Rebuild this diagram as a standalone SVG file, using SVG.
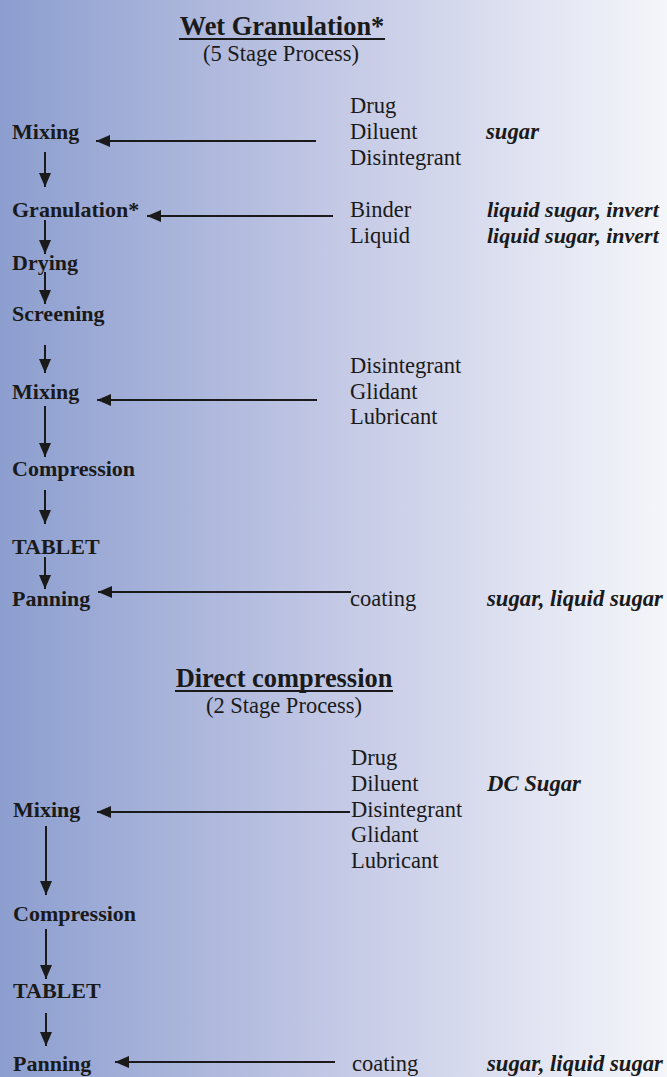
<svg xmlns="http://www.w3.org/2000/svg" width="667" height="1077" viewBox="0 0 667 1077">
<defs>
<linearGradient id="bg" x1="0" y1="0" x2="1" y2="0">
<stop offset="0" stop-color="#8c9ecf"/>
<stop offset="0.5" stop-color="#c3c8e5"/>
<stop offset="1" stop-color="#f5f6fa"/>
</linearGradient>
<marker id="ah" markerUnits="userSpaceOnUse" markerWidth="15" markerHeight="13" refX="14" refY="6.5" orient="auto" viewBox="0 0 15 13">
<path d="M0,0.5 L14,6.5 L0,12.5 z" fill="#1a1a1a"/>
</marker>
<style>
text{font-family:"Liberation Serif","Times New Roman",serif;fill:#1a1a1a}
.t{font-size:26.4px;font-weight:bold;text-anchor:middle}
.s{font-size:22.5px;text-anchor:middle}
.b{font-size:22px;font-weight:bold}
.r{font-size:22.5px}
.bi{font-size:22.7px;font-weight:bold;font-style:italic}
.bi2{font-size:22px;font-weight:bold;font-style:italic}
.c line{stroke:#1a1a1a;stroke-width:2;marker-end:url(#ah)}
.u{fill:#1a1a1a}
</style>
</defs>
<rect width="667" height="1077" fill="url(#bg)"/>

<g id="title1">
<text class="t" x="282" y="35">Wet Granulation*</text>
<rect class="u" x="179" y="38" width="206" height="2"/>
<text class="s" x="281" y="61">(5 Stage Process)</text>
</g>

<g id="mixing1"><text class="b" x="12" y="139">Mixing</text></g>
<g id="granulation"><text class="b" x="12" y="217">Granulation*</text></g>
<g id="drying"><text class="b" x="12" y="270">Drying</text></g>
<g id="screening"><text class="b" x="12" y="321">Screening</text></g>
<g id="mixing2"><text class="b" x="12" y="399">Mixing</text></g>
<g id="compression1"><text class="b" x="12" y="476">Compression</text></g>
<g id="tablet1"><text class="b" x="12" y="554">TABLET</text></g>
<g id="panning1"><text class="b" x="12" y="606">Panning</text></g>

<g id="inputs1">
<text class="r" x="350" y="113">Drug</text>
<text class="r" x="350" y="139">Diluent</text>
<text class="r" x="350" y="165">Disintegrant</text>
<text class="bi" x="486" y="139">sugar</text>
</g>
<g id="inputs2">
<text class="r" x="350" y="217">Binder</text>
<text class="r" x="350" y="243">Liquid</text>
<text class="bi2" x="487" y="217">liquid sugar, invert</text>
<text class="bi2" x="487" y="243">liquid sugar, invert</text>
</g>
<g id="inputs3">
<text class="r" x="350" y="373">Disintegrant</text>
<text class="r" x="350" y="399">Glidant</text>
<text class="r" x="350" y="424">Lubricant</text>
</g>
<g id="inputs4">
<text class="r" x="350" y="606">coating</text>
<text class="bi" x="487" y="606">sugar, liquid sugar</text>
</g>

<g id="title2">
<text class="t" x="284" y="687">Direct compression</text>
<rect class="u" x="175" y="690" width="218" height="2"/>
<text class="s" x="284" y="713">(2 Stage Process)</text>
</g>

<g id="mixing3"><text class="b" x="13" y="817">Mixing</text></g>
<g id="compression2"><text class="b" x="13" y="921">Compression</text></g>
<g id="tablet2"><text class="b" x="13" y="998">TABLET</text></g>
<g id="panning2"><text class="b" x="13" y="1071">Panning</text></g>

<g id="inputs5">
<text class="r" x="351" y="765">Drug</text>
<text class="r" x="351" y="791">Diluent</text>
<text class="r" x="351" y="817">Disintegrant</text>
<text class="r" x="351" y="842">Glidant</text>
<text class="r" x="351" y="868">Lubricant</text>
<text class="bi" x="487" y="791">DC Sugar</text>
</g>
<g id="inputs6">
<text class="r" x="352" y="1071">coating</text>
<text class="bi" x="487" y="1071">sugar, liquid sugar</text>
</g>

<g id="connectors" class="c">
<line x1="316" y1="141" x2="96" y2="141"/>
<line x1="333" y1="216" x2="147" y2="216"/>
<line x1="317" y1="400" x2="97" y2="400"/>
<line x1="351" y1="592" x2="98" y2="592"/>
<line x1="45" y1="152" x2="45" y2="187"/>
<line x1="45" y1="220" x2="45" y2="254"/>
<line x1="45" y1="272" x2="45" y2="304"/>
<line x1="45" y1="345" x2="45" y2="373"/>
<line x1="45" y1="406" x2="45" y2="457"/>
<line x1="45" y1="490" x2="45" y2="524"/>
<line x1="45" y1="557" x2="45" y2="589"/>
<line x1="350" y1="812" x2="97" y2="812"/>
<line x1="335" y1="1062" x2="115" y2="1062"/>
<line x1="46" y1="826" x2="46" y2="895"/>
<line x1="46" y1="929" x2="46" y2="979"/>
<line x1="46" y1="1013" x2="46" y2="1046"/>
</g>
</svg>
